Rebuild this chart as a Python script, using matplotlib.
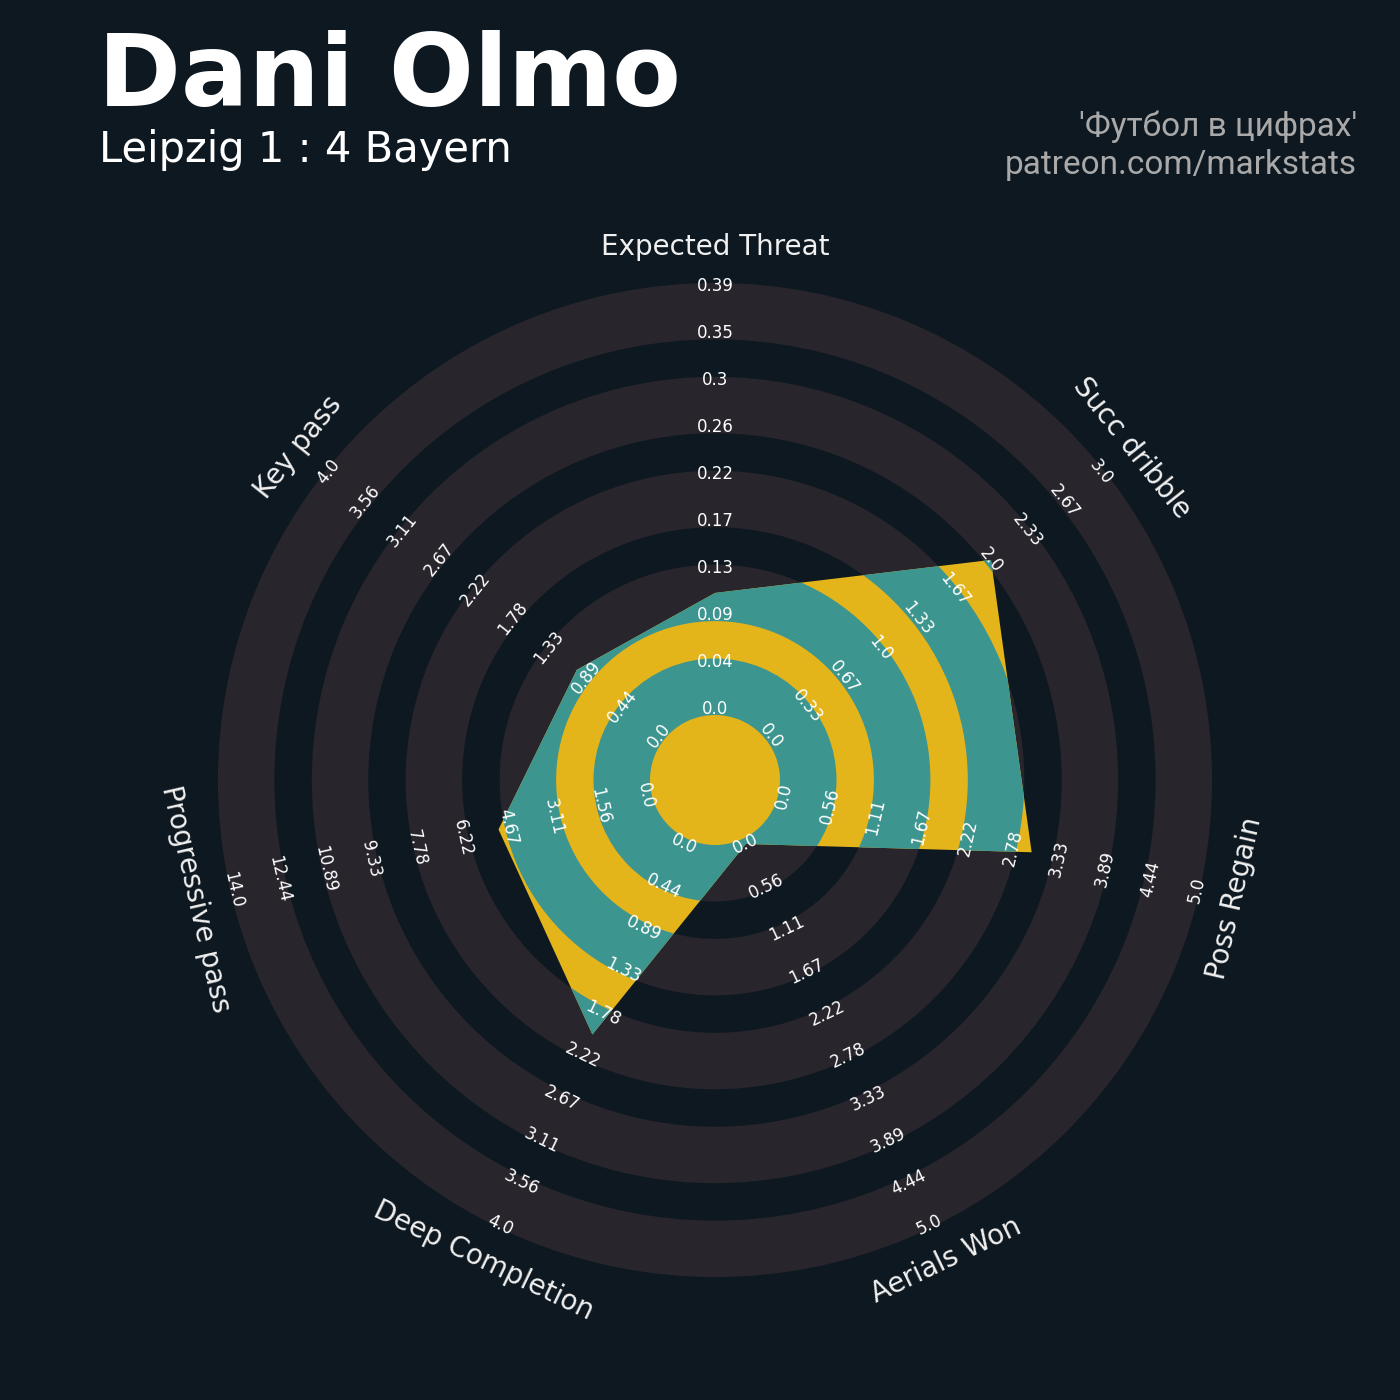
import numpy as np
import matplotlib.pyplot as plt
from matplotlib.patches import Polygon, Wedge

# данные радара
params = ['Expected Threat', 'Succ dribble', 'Poss Regain', 'Aerials Won',
          'Deep Completion', 'Progressive pass', 'Key pass']
low = [0, 0, 0, 0, 0, 0, 0]
high = [0.39, 3, 5, 5, 4, 14, 4]
values = [0.107, 2, 3, 0, 2, 5, 1]

player = 'Dani Olmo'
match = 'Leipzig 1 : 4 Bayern'
credit = ["'Футбол в цифрах'", 'patreon.com/markstats']

# цвета
bg = '#0e1820'
ring_color = '#28252c'
teal = '#3d958f'
yellow = '#e4b41b'

# геометрия (в пикселях)
r0, r_span = 71, 423          # радиус для min и длина шкалы
band_in, band_step, band_w = 65, 93.9, 56.5
label_r = 533


def txt_rot(a):
    rot = (a - 90 + 180) % 360 - 180
    if rot < -90:
        rot += 180
    elif rot > 90:
        rot -= 180
    return rot


fig = plt.figure(figsize=(14, 14), dpi=100, facecolor=bg)
ax = fig.add_axes([0, 0, 1, 1])
ax.set_facecolor(bg)
ax.set_xlim(-715, 685)
ax.set_ylim(-620, 780)
ax.set_aspect('equal')
ax.axis('off')

# кольца фона
for k in range(5):
    inner = band_in + k * band_step
    ax.add_patch(Wedge((0, 0), inner + band_w, 0, 360, width=band_w,
                       facecolor=ring_color, edgecolor='none', zorder=1))

n = len(params)
angles = 90 - np.arange(n) * 360 / n
rad = np.deg2rad(angles)

# многоугольник
frac = [(v - lo) / (hi - lo) for v, lo, hi in zip(values, low, high)]
rr = r0 + np.array(frac) * r_span
verts = np.column_stack([rr * np.cos(rad), rr * np.sin(rad)])
poly = Polygon(verts, closed=True, facecolor=yellow, edgecolor='none', zorder=2)
ax.add_patch(poly)
for k in range(5):
    inner = band_in + k * band_step
    w = Wedge((0, 0), inner + band_w, 0, 360, width=band_w,
              facecolor=teal, edgecolor='none', zorder=3)
    ax.add_patch(w)
    w.set_clip_path(poly)

# подписи шкал
for a, t, lo, hi in zip(angles, rad, low, high):
    ticks = np.linspace(lo, hi, 10)
    for i, v in enumerate(ticks):
        r = r0 + i * r_span / 9
        ax.text(r * np.cos(t), r * np.sin(t), str(float(round(v, 2))),
                fontsize=12, color='white', ha='center', va='center',
                rotation=txt_rot(a), rotation_mode='anchor', zorder=5)

# названия параметров
for p, a, t in zip(params, angles, rad):
    ax.text(label_r * np.cos(t), label_r * np.sin(t), p, fontsize=20,
            color='#f0f0f0', ha='center', va='center',
            rotation=txt_rot(a), rotation_mode='anchor', zorder=5)

# заголовки
fig.text(98 / 1400, 1 - 106 / 1400, player, fontsize=72, fontweight='bold',
         color='white', va='baseline')
fig.text(99 / 1400, 1 - 162 / 1400, match, fontsize=30, color='white', va='baseline')
fig.text(1357 / 1400, 1 - 136 / 1400, credit[0], fontsize=24, family='Roboto',
         color='#a9a9a9', ha='right', va='baseline')
fig.text(1357 / 1400, 1 - 174 / 1400, credit[1], fontsize=24, family='Roboto',
         color='#a9a9a9', ha='right', va='baseline')

fig.savefig('out.png', dpi=100, facecolor=bg)
